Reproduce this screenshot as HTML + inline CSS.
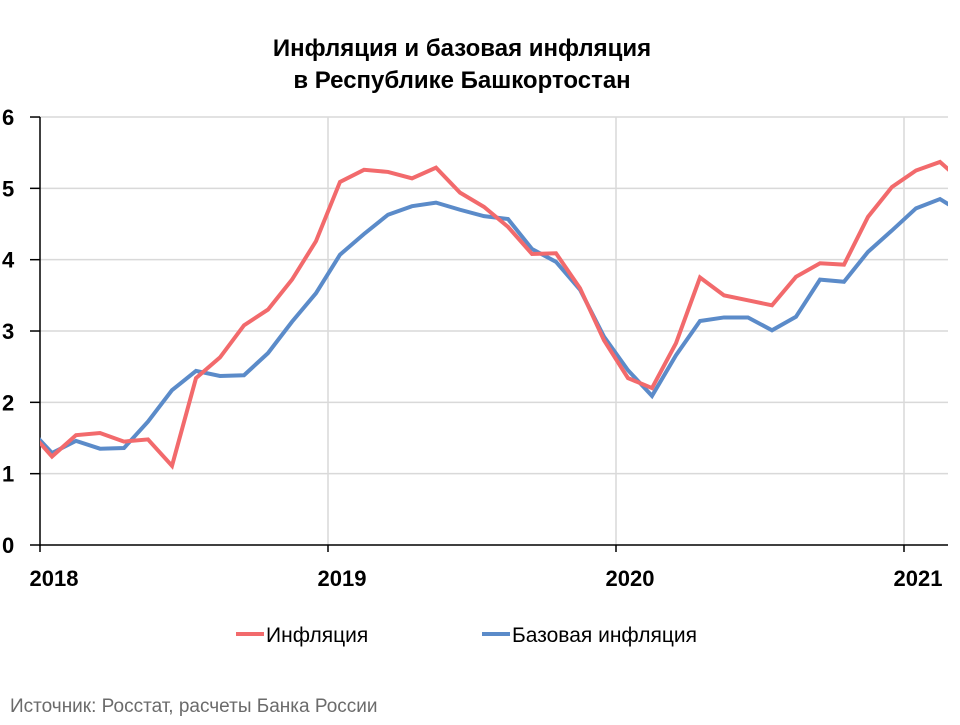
<!DOCTYPE html>
<html><head><meta charset="utf-8"><style>
body{margin:0;background:#fff;}
svg text{font-family:"Liberation Sans",Arial,sans-serif;}
</style></head><body>
<svg id="chart" width="960" height="720" viewBox="0 0 960 720" xmlns="http://www.w3.org/2000/svg">
<defs><clipPath id="plotclip"><rect x="40" y="100" width="908" height="450"/></clipPath></defs>
<text x="462" y="56" font-size="24" font-weight="bold" text-anchor="middle">Инфляция и базовая инфляция</text>
<text x="462" y="88" font-size="24" font-weight="bold" text-anchor="middle">в  Республике Башкортостан</text>
<g id="grid"></g>
<g id="axes"></g>
<g id="series" clip-path="url(#plotclip)"></g>
<g>
<line x1="236" y1="634" x2="264" y2="634" stroke="#f26a6c" stroke-width="4"/>
<text x="266" y="642" font-size="21">Инфляция</text>
<line x1="482" y1="634" x2="510" y2="634" stroke="#5b8bc9" stroke-width="4"/>
<text x="512" y="642" font-size="21">Базовая инфляция</text>
</g>
<text x="10" y="712" font-size="19" fill="#6b6b6b">Источник: Росстат, расчеты Банка России</text>
</svg>
<script>
// months starting Dec 2017 (index 0) through Mar 2021
const inflation = [1.62,1.24,1.54,1.57,1.45,1.48,1.11,2.34,2.63,3.08,3.30,3.72,4.26,5.09,5.26,5.23,5.14,5.29,4.94,4.74,4.46,4.08,4.09,3.60,2.87,2.34,2.20,2.83,3.75,3.50,3.43,3.36,3.76,3.95,3.93,4.60,5.02,5.25,5.37,5.07];
const coreInflation = [1.65,1.29,1.46,1.35,1.36,1.73,2.17,2.44,2.37,2.38,2.69,3.13,3.53,4.07,4.36,4.63,4.75,4.80,4.70,4.61,4.57,4.15,3.97,3.58,2.92,2.45,2.09,2.66,3.14,3.19,3.19,3.01,3.20,3.72,3.69,4.11,4.41,4.72,4.85,4.64];
const yTicks = [0,1,2,3,4,5,6];
const yearLabels = ["2018","2019","2020","2021"];
const NS="http://www.w3.org/2000/svg";
const x = i => 28 + 24*i;           // month index -> px
const y = v => 545 - 71.33*v;        // value -> px
const yearX = k => 40 + 288*k;       // year boundary
function mk(tag, attrs, parent){const e=document.createElementNS(NS,tag);for(const k in attrs)e.setAttribute(k,attrs[k]);parent.appendChild(e);return e;}
const grid=document.getElementById('grid'), axes=document.getElementById('axes'), series=document.getElementById('series');
yTicks.forEach(t=>{
  if(t>0){const g=mk('line',{x1:40,x2:948,y1:y(t),y2:y(t),stroke:'#d9d9d9','stroke-width':1.5},grid);
  
  }
  const tk=mk('line',{x1:30,x2:40,y1:y(t),y2:y(t),stroke:'#000','stroke-width':1.5},axes);
  
  
  const lb=mk('text',{x:2,y:y(t)+8,'font-size':22,'font-weight':'bold'},axes);
  lb.textContent=t;
  
  
});
yearLabels.forEach((yr,k)=>{
  const xx=yearX(k);
  if(k>0){const g=mk('line',{x1:xx,x2:xx,y1:117,y2:545,stroke:'#d9d9d9','stroke-width':1.5},grid);
  
  }
  const tk=mk('line',{x1:xx,x2:xx,y1:545,y2:552,stroke:'#000','stroke-width':1.5},axes);
  
  
  const lb=mk('text',{x:xx+14,y:586,'font-size':22,'font-weight':'bold','text-anchor':'middle'},axes);
  lb.textContent=yr;
  
  
});
const ya=mk('line',{x1:40,x2:40,y1:117,y2:546,stroke:'#000','stroke-width':1.5},axes);


const xa=mk('line',{x1:40,x2:948,y1:545,y2:545,stroke:'#000','stroke-width':1.5},axes);


function line(data,color,name){
  const p=mk('polyline',{points:data.map((v,i)=>x(i)+','+y(v)).join(' '),fill:'none',stroke:color,'stroke-width':4,'stroke-linejoin':'miter'},series);
  
  
}
line(coreInflation,'#5b8bc9','core-inflation-line');
line(inflation,'#f26a6c','inflation-line');
</script>
</body></html>
